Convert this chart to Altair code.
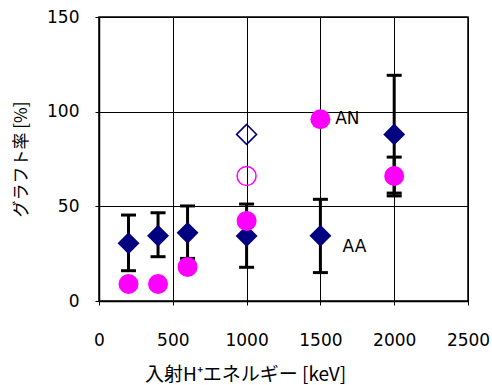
import altair as alt
import pandas as pd

# ---- data ----
energy = [200, 400, 600, 1000, 1500, 2000]
aa_val = [30.5, 34.5, 36.0, 34.3, 34.5, 88.0]
aa_err_low = [16.0, 23.4, 22.5, 17.8, 15.0, 57.0]
aa_err_high = [45.4, 46.6, 50.2, 51.2, 53.7, 119.2]
an_val = [9.0, 9.0, 18.0, 42.3, 96.0, 66.0]
an_err_energy = [2000]
an_err_low = [55.5]
an_err_high = [76.0]
open_energy = [1000]
open_diamond_val = [88.0]
open_circle_val = [66.0]
label_text = ["AN", "AA"]
label_x = [1600, 1650]
label_y = [96.0, 28.5]

NAVY = "#000080"
MAGENTA = "#ff00ff"

aa_df = pd.DataFrame({"E": energy, "v": aa_val, "lo": aa_err_low, "hi": aa_err_high})
an_df = pd.DataFrame({"E": energy, "v": an_val})
an_err_df = pd.DataFrame({"E": an_err_energy, "lo": an_err_low, "hi": an_err_high})
open_d_df = pd.DataFrame({"E": open_energy, "v": open_diamond_val})
open_c_df = pd.DataFrame({"E": open_energy, "v": open_circle_val})
lab_df = pd.DataFrame({"t": label_text, "E": label_x, "v": label_y})

x_scale = alt.Scale(domain=[0, 2500], nice=False)
y_scale = alt.Scale(domain=[0, 150], nice=False)

x_axis = alt.Axis(
    values=[0, 500, 1000, 1500, 2000, 2500], format="d",
    title="入射H⁺エネルギー [keV]",
    titleFont="Noto Sans CJK JP", titleFontSize=19, titleFontWeight="normal",
    titleColor="black", titleX=146, titleY=83, titleAnchor="middle",
    titleBaseline="bottom",
    labelFont="DejaVu Sans", labelFontSize=17, labelColor="black",
    labelPadding=27, tickSize=4, tickColor="black",
    domainColor="black", domainWidth=1.5,
    grid=True, gridColor="black", gridWidth=1,
    labelFlush=False,
)
y_axis = alt.Axis(
    values=[0, 50, 100, 150], format="d",
    title="グラフト率 [%]",
    titleFont="Noto Sans CJK JP", titleFontSize=17, titleFontWeight="normal",
    titleColor="black", titleX=-78, titleY=142, titleAngle=-90,
    titleAlign="center", titleBaseline="middle",
    labelFont="DejaVu Sans", labelFontSize=17, labelColor="black",
    labelPadding=16, tickSize=4, tickColor="black",
    domainColor="black", domainWidth=1.5,
    grid=True, gridColor="black", gridWidth=1,
    labelFlush=False,
)

CAP = dict(shape="M-1,0L1,0", size=225, strokeWidth=3, color="black", filled=False, opacity=1)

aa_bars = alt.Chart(aa_df).mark_rule(color="black", strokeWidth=3).encode(
    x=alt.X("E:Q", scale=x_scale, axis=x_axis),
    y=alt.Y("lo:Q", scale=y_scale, axis=y_axis),
    y2="hi:Q",
)
aa_cap_lo = alt.Chart(aa_df).mark_point(**CAP).encode(
    x=alt.X("E:Q", scale=x_scale), y=alt.Y("lo:Q", scale=y_scale))
aa_cap_hi = alt.Chart(aa_df).mark_point(**CAP).encode(
    x=alt.X("E:Q", scale=x_scale), y=alt.Y("hi:Q", scale=y_scale))

an_bars = alt.Chart(an_err_df).mark_rule(color="black", strokeWidth=3).encode(
    x=alt.X("E:Q", scale=x_scale), y=alt.Y("lo:Q", scale=y_scale), y2="hi:Q"
)
an_cap_lo = alt.Chart(an_err_df).mark_point(**CAP).encode(
    x=alt.X("E:Q", scale=x_scale), y=alt.Y("lo:Q", scale=y_scale))
an_cap_hi = alt.Chart(an_err_df).mark_point(**CAP).encode(
    x=alt.X("E:Q", scale=x_scale), y=alt.Y("hi:Q", scale=y_scale))

aa_pts = alt.Chart(aa_df).mark_point(
    shape="diamond", size=480, filled=True, color=NAVY, opacity=1, strokeWidth=0
).encode(x=alt.X("E:Q", scale=x_scale), y=alt.Y("v:Q", scale=y_scale))

an_pts = alt.Chart(an_df).mark_point(
    shape="circle", size=400, filled=True, color=MAGENTA, opacity=1, strokeWidth=0
).encode(x=alt.X("E:Q", scale=x_scale), y=alt.Y("v:Q", scale=y_scale))

open_d = alt.Chart(open_d_df).mark_point(
    shape="diamond", size=400, filled=False, color=NAVY, opacity=1, strokeWidth=1.5
).encode(x=alt.X("E:Q", scale=x_scale), y=alt.Y("v:Q", scale=y_scale))

open_c = alt.Chart(open_c_df).mark_point(
    shape="circle", size=360, filled=False, color=MAGENTA, opacity=1, strokeWidth=1.5
).encode(x=alt.X("E:Q", scale=x_scale), y=alt.Y("v:Q", scale=y_scale))

labels = alt.Chart(lab_df).mark_text(
    align="left", baseline="middle", font="DejaVu Sans", fontSize=17, color="black"
).encode(x=alt.X("E:Q", scale=x_scale), y=alt.Y("v:Q", scale=y_scale), text="t:N")

chart = alt.layer(
    aa_bars, aa_cap_lo, aa_cap_hi, an_bars, an_cap_lo, an_cap_hi,
    aa_pts, an_pts, open_d, open_c, labels
).properties(
    width=369, height=284,
    autosize=alt.AutoSizeParams(type="none"),
    padding={"left": 99, "top": 17, "right": 24, "bottom": 84},
    background="white",
).configure_view(stroke="black", strokeWidth=1.5)

chart.save("out.html", embed_options={"renderer": "svg", "actions": False})
